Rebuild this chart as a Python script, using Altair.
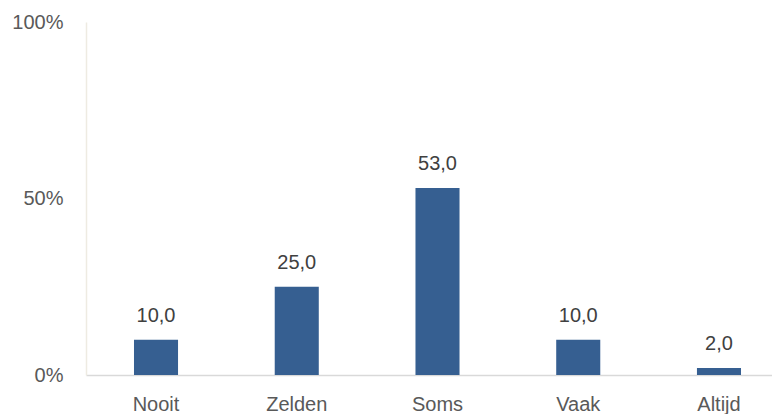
import altair as alt
import pandas as pd

categories = ["Nooit", "Zelden", "Soms", "Vaak", "Altijd"]
values = [10.0, 25.0, 53.0, 10.0, 2.0]

df = pd.DataFrame({"cat": categories, "value": values})

FONT = "Liberation Sans"

x = alt.X(
    "cat:N",
    sort=categories,
    title=None,
    scale=alt.Scale(paddingInner=0.687, paddingOuter=0.2806, align=0.6076),
    axis=alt.Axis(
        labelAngle=0, ticks=False, labelPadding=19, labelFontSize=20,
        labelColor="#595959", labelFont=FONT, domainColor="#D9D9D9",
        domainWidth=1.3, grid=False,
    ),
)

base = alt.Chart(df).encode(x=x)

bars = base.mark_bar(color="#365F91").encode(
    y=alt.Y(
        "value:Q",
        title=None,
        scale=alt.Scale(domain=[0, 100], nice=False),
        axis=alt.Axis(
            values=[0, 50, 100], labelExpr="datum.value + '%'", ticks=False,
            grid=False, labelPadding=23, labelFontSize=20, labelColor="#595959",
            labelFont=FONT, domainColor="#EEEBE2", domainWidth=1.5,
        ),
    )
)

labels = base.transform_calculate(
    lbl="replace(format(datum.value, '.1f'), '.', ',')"
).mark_text(
    baseline="alphabetic", dy=-18, fontSize=20, color="#404040", font=FONT
).encode(y="value:Q", text="lbl:N")

chart = (bars + labels).properties(
    width=686,
    height=353,
    autosize=alt.AutoSizeParams(type="none"),
    padding={"left": 78, "top": 14, "right": 0, "bottom": 45},
).configure_view(stroke=None)

chart.save("out.html", embed_options={"renderer": "svg", "actions": False})
